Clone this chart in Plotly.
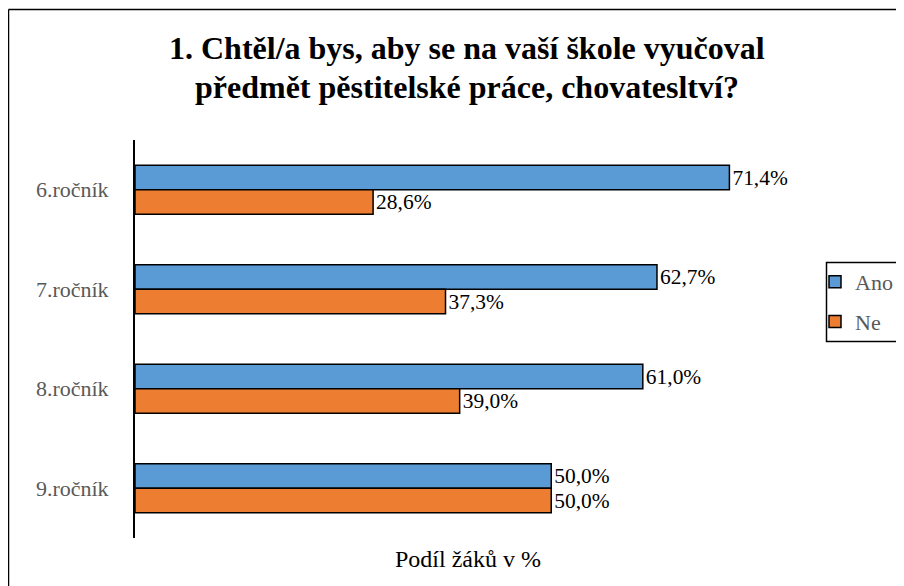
import plotly.graph_objects as go

categories = ["6.ročník", "7.ročník", "8.ročník", "9.ročník"]
ano = [71.4, 62.7, 61.0, 50.0]
ne = [28.6, 37.3, 39.0, 50.0]
title_lines = ["1. Chtěl/a bys, aby se na vaší škole vyučoval",
               "předmět pěstitelské práce, chovatesltví?"]

W, H = 904, 586
OFF = 8  # page offset of the figure in the screenshot
ml, mr, mt, mb = 127, 111, 132, 56
pw, ph = W - ml - mr, H - mt - mb

def px_x(x):
    return (x - OFF - ml) / pw

def px_y(y):
    return (H - mb - (y - OFF)) / ph

def cx(x):
    return (x - OFF) / W

def cy(y):
    return 1 - (y - OFF) / H

FONT = "Liberation Serif"

def fmt(v):
    return f"{v:.1f}".replace(".", ",") + "%"

fig = go.Figure()
fig.add_trace(go.Bar(
    y=categories, x=ano, name="Ano", orientation="h", legendgroup="ano",
    marker=dict(color="#5B9BD5", line=dict(color="black", width=1.5)),
    text=[fmt(v) for v in ano], textposition="outside",
    textfont=dict(family=FONT, size=22, color="black"), cliponaxis=False,
))
fig.add_trace(go.Bar(
    y=categories, x=ne, name="Ne", orientation="h", legendgroup="ne",
    marker=dict(color="#ED7D31", line=dict(color="black", width=1.5)),
    text=[fmt(v) for v in ne], textposition="outside",
    textfont=dict(family=FONT, size=22, color="black"), cliponaxis=False,
))

fig.update_layout(
    width=W, height=H,
    margin=dict(l=ml, r=mr, t=mt, b=mb, autoexpand=False),
    paper_bgcolor="white", plot_bgcolor="white",
    barmode="group", bargap=0.51, bargroupgap=0,
    font=dict(family=FONT, size=22, color="#595959"),
    showlegend=True,
    legend=dict(
        xref="container", yref="container",
        x=cx(815), y=cy(261), xanchor="left", yanchor="top",
        borderwidth=0, bgcolor="rgba(0,0,0,0)",
        font=dict(family=FONT, size=22, color="#595959"),
        itemwidth=30, tracegroupgap=8,
    ),
    xaxis=dict(
        range=[0, 80], showgrid=False, zeroline=False, showline=False,
        showticklabels=False, ticks="",
        title=dict(text="Podíl žáků v %", font=dict(family=FONT, size=24, color="black"), standoff=12),
    ),
    yaxis=dict(
        autorange="reversed", showgrid=False, zeroline=False,
        showline=True, linecolor="black", linewidth=2, ticks="",
        ticklabelstandoff=20,
        tickfont=dict(family=FONT, size=22, color="#595959"),
    ),
    shapes=[
        # outer chart border (top and left edges visible)
        dict(type="line", xref="paper", yref="paper",
             x0=px_x(8.5), x1=px_x(OFF + W), y0=px_y(OFF + 1.5), y1=px_y(OFF + 1.5),
             line=dict(color="black", width=1.5)),
        dict(type="line", xref="paper", yref="paper",
             x0=px_x(8.5), x1=px_x(8.5), y0=px_y(OFF + 1.5), y1=px_y(OFF + H),
             line=dict(color="black", width=1.5)),
        # legend frame
        dict(type="rect", xref="paper", yref="paper",
             x0=px_x(826.5), x1=px_x(901.5), y0=px_y(341.5), y1=px_y(262.5),
             line=dict(color="black", width=1.5), fillcolor="rgba(0,0,0,0)"),
    ],
    annotations=[
        dict(text="<b>" + title_lines[0] + "</b>", xref="paper", yref="paper",
             x=px_x(467), y=px_y(48), xanchor="center", yanchor="middle",
             showarrow=False, font=dict(family=FONT, size=32, color="black")),
        dict(text="<b>" + title_lines[1] + "</b>", xref="paper", yref="paper",
             x=px_x(467), y=px_y(87), xanchor="center", yanchor="middle",
             showarrow=False, font=dict(family=FONT, size=32, color="black")),
    ],
)

fig.write_html("out.html")
